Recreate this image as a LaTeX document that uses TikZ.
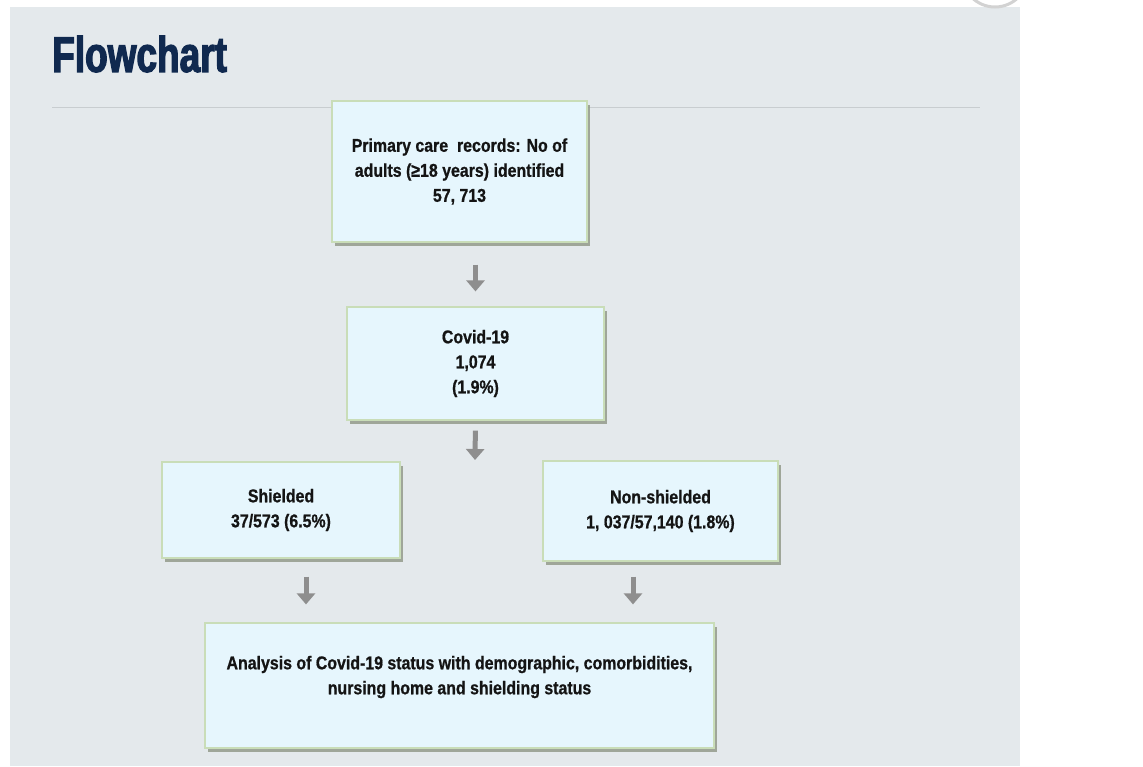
\documentclass[tikz,border=0pt]{standalone}
\usepackage{fontspec}
\setmainfont{Liberation Sans}[FakeStretch=0.86]
\newfontfamily\titlefont{Liberation Sans}[FakeStretch=0.74, FakeBold=2.5]
\newfontfamily\boxfont{Liberation Sans}[FakeStretch=0.86, FakeBold=0.8]
\usetikzlibrary{arrows.meta,positioning,shadows}
\definecolor{bggray}{HTML}{E4E9EC}
\definecolor{boxfill}{HTML}{E6F6FD}
\definecolor{boxline}{HTML}{C9DDB8}
\definecolor{boxshadow}{HTML}{939B8B}
\definecolor{navy}{HTML}{10294F}
\definecolor{arrgray}{HTML}{8E8E8E}
\definecolor{rulegray}{HTML}{C8CDD0}
\tikzset{
  box/.style={rectangle, draw=boxline, line width=1.2pt, fill=boxfill, align=center,
    font=\boxfont\bfseries\fontsize{18.5}{25}\selectfont, text=black!92,
    drop shadow={shadow xshift=3pt, shadow yshift=-4pt, fill=boxshadow, opacity=0.85}},
  boxtxt/.style={align=center, font=\boxfont\bfseries\fontsize{18.5}{25}\selectfont, text=black!92},
  arr/.style={-{Triangle[width=18pt,length=11pt]}, line width=5pt, draw=arrgray},
  ttl/.style={font=\titlefont\bfseries\fontsize{50}{50}\selectfont, text=navy, inner sep=0pt}
}
\begin{document}
\begin{tikzpicture}[x=1pt, y=-1pt]
    \useasboundingbox (0,0) rectangle (1143,766);

    % Background
    \fill[bggray] (10,7) rectangle (1020,766);
    \draw[gray!35, line width=3pt] (995,-26) circle (33pt);
    \draw[rulegray, line width=1pt] (52,107) -- (980,107);

    % Title
    \node[ttl, anchor=west] (title) at (52,54) {Flowchart};

    % Boxes
    \node[box, minimum width=255pt, minimum height=141pt] (prim) at (459.5,171.5)
        {Primary care\ \ records: No of\\ adults (≥18 years) identified\\ 57, 713};
    \node[box, minimum width=257pt, minimum height=113pt] (covid) at (475.5,363.5)
        {Covid-19\\ 1,074\\ (1.9\%)};
    \node[box, minimum width=238pt, minimum height=96pt] (shield) at (281,510)
        {Shielded\\ 37/573 (6.5\%)};
    \node[box, minimum width=235pt, minimum height=100pt] (nonsh) at (660.5,511)
        {Non-shielded\\ 1, 037/57,140 (1.8\%)};
    \node[box, minimum width=509pt, minimum height=125pt] (an) at (459.5,685.5) {};
    \node[boxtxt] (antxt) at (459.5,677)
        {Analysis of Covid-19 status with demographic, comorbidities,\\ nursing home and shielding status};

    % Arrows
    \coordinate (split) at (475,460);
    \draw[arr, shorten <=22pt, shorten >=15pt] (covid.north |- prim.south) -- (covid.north);
    \draw[arr, shorten <=10pt] (covid.south) -- (split);
    \draw[arr, shorten <=18pt, shorten >=18pt] ([xshift=25pt]shield.south) -- ([xshift=25pt]shield.south |- an.north);
    \draw[arr, shorten <=15pt, shorten >=18pt] ([xshift=-27.5pt]nonsh.south) -- ([xshift=-27.5pt]nonsh.south |- an.north);
\end{tikzpicture}
\end{document}
